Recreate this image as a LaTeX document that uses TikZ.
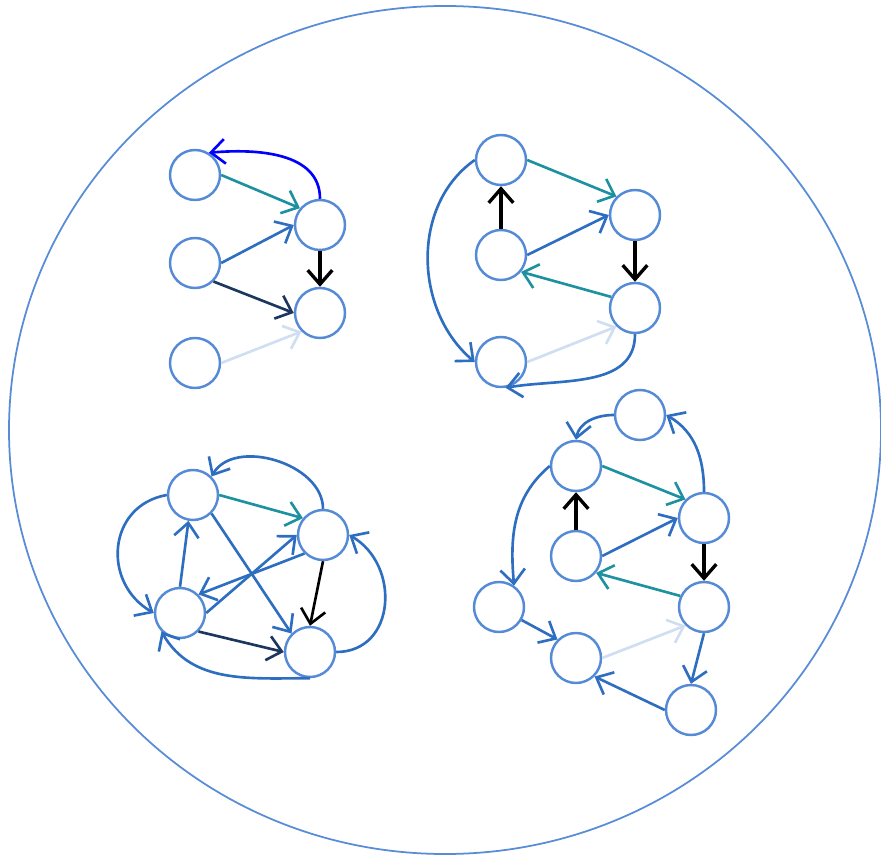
\documentclass[tikz,border=0pt]{standalone}
\usepackage{tikz}
\usetikzlibrary{arrows.meta,positioning}
\definecolor{ringblue}{RGB}{88,140,215}
\definecolor{nodeblue}{RGB}{85,138,214}
\definecolor{edgeblue}{RGB}{46,110,192}
\definecolor{edgeteal}{RGB}{30,145,160}
\definecolor{edgenavy}{RGB}{28,55,95}
\definecolor{edgepale}{RGB}{208,222,242}

\begin{document}
\begin{tikzpicture}[x=0.02cm,y=-0.02cm,>={Straight Barb[length=8pt,width=14pt]},
  vtx/.style={circle,draw=nodeblue,line width=1.4pt,fill=white,minimum size=1cm,inner sep=0pt},
  blu/.style={->,edgeblue,line width=1.5pt},
  tea/.style={->,edgeteal,line width=1.5pt},
  nav/.style={->,edgenavy,line width=1.5pt},
  pal/.style={->,edgepale,line width=1.5pt},
  blk/.style={->,black,line width=1.9pt}]
\useasboundingbox (0,0) rectangle (881,857);
% outer ring
\draw[ringblue,line width=1pt] (445,430) ellipse [x radius=436, y radius=424];
% vertices of the four graphs
\foreach \n/\x/\y in {a1/195/175,b1/195/263,c1/195/363,d1/320/225,e1/320/313,
  a2/501/160,b2/501/255,c2/501/362,d2/635/215,e2/635/308,
  a3/193/495,b3/323/535,c3/180/613,d3/310/652,
  a4/640/415,b4/576/466,c4/704/518,d4/576/556,e4/704/607,f4/499/607,g4/576/658,h4/691/710}
  \node[vtx] (\n) at (\x,\y) {};

% graph 1 (top left)
\draw[tea] (a1.east) -- (d1.140);
\draw[blu] (b1.east) -- (d1.west);
\draw[nav] (b1.-45) -- (e1.west);
\draw[pal] (c1.east) -- (e1.225);
\draw[blk] (d1.south) -- (e1.north);
\draw[->,blue,line width=1.5pt] (d1.north) to[out=90,in=5] (a1.58);

% graph 2 (top right)
\draw[tea] (a2.east) -- (d2.135);
\draw[blk] (b2.north) -- (a2.south);
\draw[blu] (b2.east) -- (d2.west);
\draw[blk] (d2.south) -- (e2.north);
\draw[tea] (e2.155) -- (b2.-40);
\draw[pal] (c2.east) -- (e2.225);
\draw[blu] (e2.south) to[out=-90,in=10] (c2.-80);
\draw[blu] (a2.west) to[out=215,in=140] (c2.west);

% graph 3 (bottom left)
\draw[tea] (a3.east) -- (b3.140);
\draw[blu] (a3.-45) -- (d3.135);
\draw[blu] (c3.north) -- (a3.-100);
\draw[blu] (c3.east) -- (b3.west);
\draw[blu] (b3.225) -- (c3.45);
\draw[nav] (c3.-45) -- (d3.west);
\draw[->,black,line width=1.5pt] (b3.south) -- (d3.north);
\draw[blu] (b3.north) to[out=90,in=60] (a3.45);
\draw[blu] (a3.west) to[out=190,in=150,looseness=1.3] (c3.west);
\draw[blu] (d3.east) to[out=0,in=-30,looseness=1.3] (b3.east);
\draw[blu] (d3.south) to[out=180,in=-60] (c3.-135);

% graph 4 (bottom right)
\draw[blu] (a4.west) to[out=180,in=80] (b4.north);
\draw[blu] (c4.north) to[out=90,in=-30] (a4.east);
\draw[tea] (b4.east) -- (c4.135);
\draw[blk] (d4.north) -- (b4.south);
\draw[blu] (d4.east) -- (c4.west);
\draw[blk] (c4.south) -- (e4.north);
\draw[tea] (e4.155) -- (d4.-40);
\draw[blu] (b4.west) to[out=220,in=95] (f4.55);
\draw[blu] (f4.-30) -- (g4.135);
\draw[pal] (g4.east) -- (e4.225);
\draw[blu] (e4.south) -- (h4.north);
\draw[blu] (h4.west) -- (g4.-45);
\end{tikzpicture}
\end{document}
